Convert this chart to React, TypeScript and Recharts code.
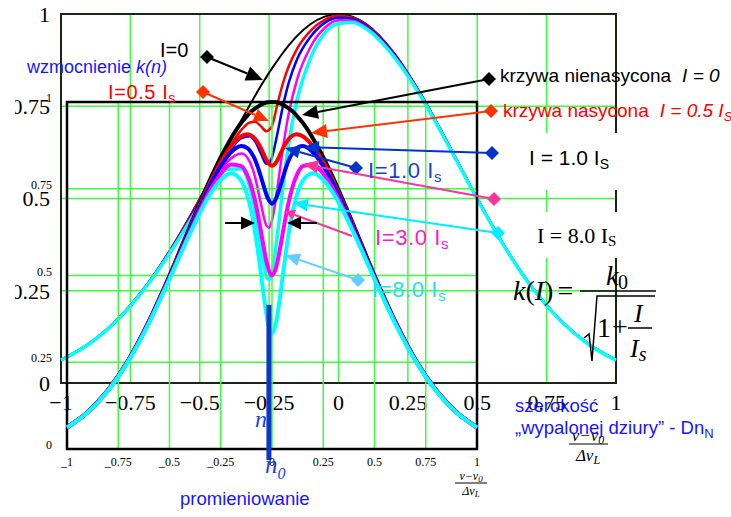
import React from "react";
import { LineChart, Line, XAxis, YAxis, CartesianGrid, ReferenceArea, ReferenceLine } from "recharts";

const SANS = '"Liberation Sans", Arial, Helvetica, sans-serif';
const SERIF = '"Liberation Serif", "Times New Roman", Times, serif';
const GRID = "#3dff3d";

// ---------- axes ----------
const xTicks = [-1, -0.75, -0.5, -0.25, 0, 0.25, 0.5, 0.75, 1];
const yTicks = [0, 0.25, 0.5, 0.75, 1];
const outerXLabels = ["−1", "−0.75", "−0.5", "−0.25", "0", "0.25", "0.5", "0.75", "1"];
const innerXLabels = ["_1", "_0.75", "_0.5", "_0.25", "0", "0.25", "0.5", "0.75", "1"];
const yLabels = ["0", "0.25", "0.5", "0.75", "1"];

// ---------- outer plot (hole at -0.25) ----------
const outerX = [-1, -0.9, -0.8, -0.7, -0.6, -0.5, -0.45, -0.4, -0.35, -0.32, -0.3, -0.28, -0.26, -0.25, -0.24, -0.22, -0.2, -0.18, -0.15, -0.1, -0.05, 0, 0.05, 0.1, 0.2, 0.3, 0.4, 0.5, 0.6, 0.7, 0.8, 0.9, 1];
const outerI0 = [0.063, 0.106, 0.17, 0.257, 0.369, 0.5, 0.57, 0.642, 0.712, 0.753, 0.779, 0.805, 0.829, 0.841, 0.852, 0.874, 0.895, 0.914, 0.94, 0.973, 0.993, 1.0, 0.993, 0.973, 0.895, 0.779, 0.642, 0.5, 0.369, 0.257, 0.17, 0.106, 0.063];
const outerI05 = [0.062, 0.106, 0.169, 0.256, 0.367, 0.497, 0.564, 0.63, 0.686, 0.706, 0.708, 0.696, 0.682, 0.686, 0.696, 0.756, 0.813, 0.857, 0.905, 0.955, 0.984, 0.995, 0.99, 0.97, 0.893, 0.778, 0.641, 0.5, 0.368, 0.257, 0.17, 0.106, 0.062];
const outerI1 = [0.062, 0.106, 0.169, 0.256, 0.366, 0.493, 0.559, 0.619, 0.664, 0.669, 0.654, 0.623, 0.594, 0.595, 0.611, 0.677, 0.751, 0.812, 0.876, 0.939, 0.976, 0.99, 0.987, 0.968, 0.891, 0.777, 0.64, 0.499, 0.368, 0.257, 0.17, 0.106, 0.062];
const outerI3 = [0.062, 0.105, 0.169, 0.255, 0.364, 0.487, 0.548, 0.6, 0.622, 0.6, 0.556, 0.487, 0.427, 0.421, 0.439, 0.53, 0.638, 0.728, 0.821, 0.912, 0.962, 0.983, 0.982, 0.964, 0.888, 0.775, 0.639, 0.499, 0.368, 0.256, 0.169, 0.106, 0.062];
const outerI8 = [0.062, 0.105, 0.168, 0.254, 0.361, 0.481, 0.537, 0.579, 0.58, 0.532, 0.464, 0.37, 0.29, 0.28, 0.298, 0.402, 0.533, 0.646, 0.765, 0.882, 0.948, 0.974, 0.977, 0.96, 0.884, 0.773, 0.638, 0.498, 0.367, 0.256, 0.169, 0.105, 0.062];

// ---------- inner plot (hole at 0) ----------
const innerX = [-1, -0.9, -0.8, -0.7, -0.6, -0.5, -0.4, -0.3, -0.25, -0.2, -0.15, -0.12, -0.1, -0.08, -0.06, -0.04, -0.02, 0, 0.02, 0.04, 0.06, 0.08, 0.1, 0.12, 0.15, 0.2, 0.25, 0.3, 0.4, 0.5, 0.6, 0.7, 0.8, 0.9, 1];
const innerI0 = [0.063, 0.106, 0.17, 0.257, 0.369, 0.5, 0.642, 0.779, 0.841, 0.895, 0.94, 0.961, 0.973, 0.982, 0.99, 0.996, 0.999, 1.0, 0.999, 0.996, 0.99, 0.982, 0.973, 0.961, 0.94, 0.895, 0.841, 0.779, 0.642, 0.5, 0.369, 0.257, 0.17, 0.106, 0.063];
const innerI05 = [0.062, 0.106, 0.169, 0.256, 0.367, 0.498, 0.637, 0.77, 0.827, 0.872, 0.901, 0.907, 0.903, 0.892, 0.874, 0.849, 0.826, 0.816, 0.826, 0.849, 0.874, 0.892, 0.903, 0.907, 0.901, 0.872, 0.827, 0.77, 0.637, 0.498, 0.367, 0.256, 0.169, 0.106, 0.062];
const innerI1 = [0.062, 0.106, 0.169, 0.256, 0.367, 0.496, 0.634, 0.762, 0.815, 0.855, 0.873, 0.867, 0.853, 0.83, 0.796, 0.757, 0.722, 0.707, 0.722, 0.757, 0.796, 0.83, 0.853, 0.867, 0.873, 0.855, 0.815, 0.762, 0.634, 0.496, 0.367, 0.256, 0.169, 0.106, 0.062];
const innerI3 = [0.062, 0.105, 0.169, 0.255, 0.365, 0.492, 0.626, 0.747, 0.793, 0.82, 0.815, 0.788, 0.755, 0.708, 0.647, 0.58, 0.523, 0.5, 0.523, 0.58, 0.647, 0.708, 0.755, 0.788, 0.815, 0.82, 0.793, 0.747, 0.626, 0.492, 0.365, 0.255, 0.169, 0.105, 0.062];
const innerI8 = [0.062, 0.105, 0.168, 0.254, 0.363, 0.49, 0.621, 0.736, 0.776, 0.795, 0.773, 0.73, 0.682, 0.616, 0.533, 0.441, 0.364, 0.333, 0.364, 0.441, 0.533, 0.616, 0.682, 0.73, 0.773, 0.795, 0.776, 0.736, 0.621, 0.49, 0.363, 0.254, 0.168, 0.105, 0.062];

// hole-centre marker (ν0) in inner coordinates
const holeX = -0.015;
const holeBar = [0.415, -0.032];

const outerData = outerX.map((x, i) => ({ x, k0: outerI0[i], k05: outerI05[i], k1: outerI1[i], k3: outerI3[i], k8: outerI8[i] }));
const innerData = innerX.map((x, i) => ({ x, k0: innerI0[i], k05: innerI05[i], k1: innerI1[i], k3: innerI3[i], k8: innerI8[i] }));

const outerSeries = [
  { key: "k0", color: "#000000", width: 2 },
  { key: "k05", color: "#ff0000", width: 2.5 },
  { key: "k1", color: "#0000ff", width: 2.5 },
  { key: "k3", color: "#ff00ff", width: 2.5 },
  { key: "k8", color: "#00ffff", width: 3.5 },
];
const innerSeries = [
  { key: "k0", color: "#000000", width: 4 },
  { key: "k05", color: "#ff0000", width: 4 },
  { key: "k1", color: "#0000ff", width: 4 },
  { key: "k3", color: "#ff00ff", width: 4 },
  { key: "k8", color: "#00ffff", width: 4 },
];

const InnerYTick = (props: any) => {
  const { x, y, payload } = props;
  return (
    <text x={x} y={y - 4} textAnchor="end" dominantBaseline="central" fontFamily={SERIF} fontSize={12} fill="#000">
      {yLabels[yTicks.indexOf(payload.value)]}
    </text>
  );
};

function Arrow({ x1, y1, x2, y2, color, w = 2, hl = 15, hw = 13, diamond = true, ds = 7 }: any) {
  const a = Math.atan2(y2 - y1, x2 - x1);
  const bx = x2 - hl * Math.cos(a);
  const by = y2 - hl * Math.sin(a);
  const px = (-Math.sin(a) * hw) / 2;
  const py = (Math.cos(a) * hw) / 2;
  return (
    <g>
      <line x1={x1} y1={y1} x2={bx} y2={by} stroke={color} strokeWidth={w} />
      <polygon points={`${x2},${y2} ${bx + px},${by + py} ${bx - px},${by - py}`} fill={color} />
      {diamond && <polygon points={`${x1},${y1 - ds} ${x1 + ds},${y1} ${x1},${y1 + ds} ${x1 - ds},${y1}`} fill={color} />}
    </g>
  );
}

export default function App() {
  return (
    <div style={{ position: "absolute", left: 0, top: 0, width: 731, height: 517, background: "#fff", overflow: "hidden" }}>
      {/* outer plot */}
      <div style={{ position: "absolute", left: 0, top: 0 }}>
        <LineChart width={731} height={517} data={outerData} margin={{ top: 14, right: 115, bottom: 104, left: 0 }}>
          <CartesianGrid stroke={GRID} strokeWidth={1.5} />
          <XAxis
            type="number"
            dataKey="x"
            domain={[-1, 1]}
            ticks={xTicks}
            interval={0}
            height={30}
            axisLine={false}
            tickLine={false}
            tickSize={0}
            tickMargin={11}
            tick={{ fill: "#000", fontSize: 22, fontFamily: SERIF }}
            tickFormatter={(v: number) => outerXLabels[xTicks.indexOf(v)]}
          />
          <YAxis
            type="number"
            domain={[0, 1]}
            ticks={yTicks}
            interval={0}
            width={61}
            axisLine={false}
            tickLine={false}
            tickSize={0}
            tickMargin={11}
            tick={{ fill: "#000", fontSize: 22, fontFamily: SERIF }}
            tickFormatter={(v: number) => yLabels[yTicks.indexOf(v)]}
          />
          <ReferenceArea x1={-1} x2={1} y1={0} y2={1} fill="none" fillOpacity={0} stroke="#172817" strokeWidth={2} ifOverflow="visible" />
          {outerSeries.map((s) => (
            <Line key={s.key} type="monotone" dataKey={s.key} stroke={s.color} strokeWidth={s.width} dot={false} isAnimationActive={false} />
          ))}
        </LineChart>
      </div>

      {/* inner plot */}
      <div style={{ position: "absolute", left: 0, top: 0 }}>
        <LineChart width={731} height={517} data={innerData} margin={{ top: 102, right: 254, bottom: 48, left: 0 }}>
          <CartesianGrid stroke={GRID} strokeWidth={1.5} />
          <XAxis
            type="number"
            dataKey="x"
            domain={[-1, 1]}
            ticks={xTicks}
            interval={0}
            height={20}
            axisLine={false}
            tickLine={false}
            tickSize={0}
            tickMargin={8}
            tick={{ fill: "#000", fontSize: 12, fontFamily: SERIF }}
            tickFormatter={(v: number) => innerXLabels[xTicks.indexOf(v)]}
          />
          <YAxis
            type="number"
            domain={[0, 1]}
            ticks={yTicks}
            interval={0}
            width={67}
            axisLine={false}
            tickLine={false}
            tickSize={0}
            tickMargin={15}
            tick={<InnerYTick />}
          />
          <ReferenceArea x1={-1} x2={1} y1={0} y2={1} fill="none" fillOpacity={0} stroke="#000" strokeWidth={2.5} ifOverflow="visible" />
          {innerSeries.map((s) => (
            <Line key={s.key} type="monotone" dataKey={s.key} stroke={s.color} strokeWidth={s.width} dot={false} isAnimationActive={false} />
          ))}
          <ReferenceLine
            segment={[{ x: holeX, y: holeBar[0] }, { x: holeX, y: holeBar[1] }]}
            stroke="#0b36c9"
            strokeWidth={5}
            ifOverflow="visible"
          />
        </LineChart>
      </div>

      {/* clipped left edge of outer y labels */}
      <div style={{ position: "absolute", left: 0, top: 80, width: 15, height: 240, background: "#fff" }} />

      {/* annotations */}
      <svg width={731} height={517} style={{ position: "absolute", left: 0, top: 0, overflow: "visible" }}>
        <rect x={517} y={133} width={115} height={57} fill="#fff" />
        <rect x={520} y={212} width={112} height={46} fill="#fff" />

        <Arrow x1={207} y1={57} x2={263} y2={80} color="#000" hl={17} hw={15} />
        <Arrow x1={203} y1={92} x2={269} y2={121} color="#ff3300" />
        <Arrow x1={489} y1={79} x2={302} y2={115} color="#000" hl={16} hw={14} />
        <Arrow x1={491} y1={111} x2={311} y2={133} color="#ff3300" hl={16} hw={14} />
        <Arrow x1={492} y1={153} x2={304} y2={147} color="#0033cc" />
        <Arrow x1={356} y1={168} x2={285} y2={148} color="#0033cc" />
        <Arrow x1={494} y1={199} x2={303} y2={164} color="#ff3399" />
        <Arrow x1={498} y1={233} x2={293} y2={203} color="#00eeff" />
        <Arrow x1={352} y1={236} x2={284} y2={211} color="#ff3399" hl={11} hw={10} diamond={false} />
        <Arrow x1={358} y1={280} x2={285} y2={255} color="#66ccff" />
        <Arrow x1={225} y1={223} x2={255} y2={223} color="#000" hl={14} hw={13} diamond={false} />
        <Arrow x1={317} y1={223} x2={287} y2={223} color="#000" hl={14} hw={13} diamond={false} />

        <text x={160} y={57} fontFamily={SANS} fontSize={20} fill="#000">I=0</text>
        <text x={27} y={73} fontFamily={SANS} fontSize={18} fill="#1515ff">
          wzmocnienie <tspan fontStyle="italic">k(n)</tspan>
        </text>
        <text x={108} y={99} fontFamily={SANS} fontSize={20} letterSpacing={0.6} fill="#ff0000">
          I=0.5 I<tspan fontSize={14} dy={4}>s</tspan>
        </text>
        <text x={500} y={82} fontFamily={SANS} fontSize={19} fill="#000">
          krzywa nienasycona<tspan dx={11} fontStyle="italic">I = 0</tspan>
        </text>
        <text x={503} y={117} fontFamily={SANS} fontSize={19} fill="#ff0000">
          krzywa nasycona<tspan dx={11} fontStyle="italic">I = 0.5 I</tspan>
          <tspan fontStyle="italic" fontSize={13} dy={4}>S</tspan>
        </text>
        <text x={529} y={165} fontFamily={SANS} fontSize={21} fill="#000">
          I = 1.0 I<tspan fontSize={14} dy={4}>S</tspan>
        </text>
        <text x={368} y={178} fontFamily={SANS} fontSize={22} letterSpacing={0.6} fill="#1e3fcf">
          I=1.0 I<tspan fontSize={15} dy={4}>s</tspan>
        </text>
        <text x={537} y={243} fontFamily={SERIF} fontSize={22} fill="#000">
          I = 8.0 I<tspan fontSize={15} dy={3}>S</tspan>
        </text>
        <text x={375} y={245} fontFamily={SANS} fontSize={22} letterSpacing={0.6} fill="#ff19d1">
          I=3.0 I<tspan fontSize={15} dy={4}>s</tspan>
        </text>
        <text x={372} y={297} fontFamily={SANS} fontSize={22} letterSpacing={0.6} fill="#1fe0ef">
          I=8.0 I<tspan fontSize={15} dy={4}>s</tspan>
        </text>

        {/* formula */}
        <text x={513} y={300} fontFamily={SERIF} fontSize={28} fill="#000">
          <tspan fontStyle="italic">k</tspan>(<tspan fontStyle="italic">I</tspan>)<tspan dx={4}>=</tspan>
        </text>
        <text x={606} y={285} fontFamily={SERIF} fontSize={28} fontStyle="italic" fill="#000">k</text>
        <text x={618} y={289} fontFamily={SERIF} fontSize={20} fill="#000">0</text>
        <line x1={580} y1={291} x2={656} y2={291} stroke="#000" strokeWidth={1.5} />
        <path d="M 584 338 L 589 334 L 592 361 L 597 296 L 655 296" fill="none" stroke="#000" strokeWidth={1.5} />
        <text x={597} y={337} fontFamily={SERIF} fontSize={28} fill="#000">1</text>
        <text x={612} y={336} fontFamily={SERIF} fontSize={28} fill="#000">+</text>
        <text x={634} y={322} fontFamily={SERIF} fontSize={26} fontStyle="italic" fill="#000">I</text>
        <line x1={628} y1={328} x2={652} y2={328} stroke="#000" strokeWidth={1.5} />
        <text x={630} y={357} fontFamily={SERIF} fontSize={26} fontStyle="italic" fill="#000">
          I<tspan fontSize={20} dy={4}>s</tspan>
        </text>

        {/* axis captions */}
        <text x={588} y={441} textAnchor="middle" fontFamily={SERIF} fontSize={17} fontStyle="italic" fill="#000">
          ν−ν<tspan fontSize={12} dy={3}>0</tspan>
        </text>
        <line x1={569} y1={444} x2={608} y2={444} stroke="#000" strokeWidth={1} />
        <text x={588} y={461} textAnchor="middle" fontFamily={SERIF} fontSize={17} fontStyle="italic" fill="#000">
          Δν<tspan fontSize={12} dy={3}>L</tspan>
        </text>
        <text x={471} y={480} textAnchor="middle" fontFamily={SERIF} fontSize={12} fontStyle="italic" fill="#000">
          ν−ν<tspan fontSize={9} dy={2}>0</tspan>
        </text>
        <line x1={455} y1={483} x2={487} y2={483} stroke="#000" strokeWidth={1} />
        <text x={471} y={495} textAnchor="middle" fontFamily={SERIF} fontSize={12} fontStyle="italic" fill="#000">
          Δν<tspan fontSize={9} dy={2}>L</tspan>
        </text>

        {/* blue captions */}
        <text x={255} y={427} fontFamily={SERIF} fontSize={24} fontStyle="italic" fill="#1f3fe0">n</text>
        <text x={265} y={473} fontFamily={SERIF} fontSize={25} fontStyle="italic" fill="#1f3fe0">
          n<tspan fontSize={16} dy={6}>0</tspan>
        </text>
        <text x={180} y={505} fontFamily={SANS} fontSize={18.5} fill="#1515ff">promieniowanie</text>
        <text x={515} y={412} fontFamily={SANS} fontSize={18.5} fill="#1515ff">szerokość</text>
        <text x={515} y={434} fontFamily={SANS} fontSize={18.5} fill="#1515ff">
          „wypalonej dziury” - Dn<tspan fontSize={13} dy={4}>N</tspan>
        </text>
      </svg>
    </div>
  );
}
